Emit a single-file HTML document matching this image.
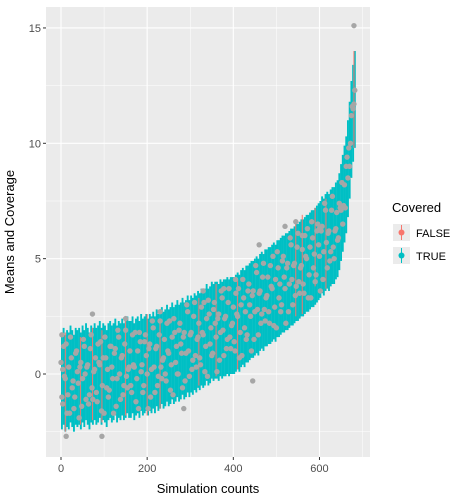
<!DOCTYPE html>
<html><head><meta charset="utf-8"><style>
body{margin:0;background:#fff;}
svg{display:block;font-family:"Liberation Sans",sans-serif;}
</style></head><body>
<svg id="chart" width="474" height="502" viewBox="0 0 474 502">
<rect x="46" y="7" width="324" height="450" fill="#EBEBEB"/>
<g id="grid"></g>
<g id="bars"></g>
<g id="redbars"></g>
<g id="points"></g>
<g id="axes"></g>
<text x="14" y="232" transform="rotate(-90 14 232)" text-anchor="middle" font-size="13" fill="#000">Means and Coverage</text>
<text x="208" y="493" text-anchor="middle" font-size="13" fill="#000">Simulation counts</text>
<g>
<text x="392" y="212" font-size="13" fill="#000">Covered</text>
<g>
<rect x="393" y="224" width="17" height="17" fill="#EBEBEB"/>
<line x1="401.5" y1="225" x2="401.5" y2="240" stroke="#F8766D" stroke-width="1"/>
<circle cx="401.5" cy="232.5" r="3" fill="#F8766D"/>
<text x="416" y="237" font-size="11" fill="#000">FALSE</text>
</g>
<g>
<rect x="393" y="247" width="17" height="17" fill="#EBEBEB"/>
<line x1="401.5" y1="248" x2="401.5" y2="263" stroke="#00BFC4" stroke-width="1"/>
<circle cx="401.5" cy="255.5" r="3" fill="#00BFC4"/>
<text x="416" y="260" font-size="11" fill="#000">TRUE</text>
</g>
</g>
</svg>
<script>
const centers = [-0.3,-0.1,-0.4,-0.2,-0.3,0.0,-0.2,-0.4,-0.1,-0.2,
-0.1,-0.3,0.0,-0.2,0.1,-0.1,-0.3,0.0,-0.1,0.1,
-0.1,0.0,0.2,-0.1,0.1,0.0,-0.2,0.1,0.2,0.0,
0.1,0.3,0.0,0.2,0.1,0.3,0.1,0.2,0.4,0.2,
0.2,0.4,0.1,0.3,0.4,0.2,0.5,0.3,0.4,0.5,
0.3,0.5,0.4,0.6,0.4,0.7,0.5,0.6,0.8,0.6,
0.7,0.9,0.7,0.8,1.0,0.8,0.9,1.1,0.9,1.0,
1.2,1.0,1.1,1.3,1.1,1.3,1.2,1.4,1.3,1.5,
1.4,1.6,1.5,1.6,1.8,1.6,1.7,1.9,1.8,1.9,
1.9,1.8,2.0,1.9,2.0,2.0,2.1,2.0,2.1,2.1,
2.1,2.2,2.3,2.2,2.4,2.5,2.4,2.6,2.6,2.7,
2.8,2.8,2.9,3.0,2.9,3.1,3.2,3.1,3.3,3.3,
3.4,3.4,3.5,3.6,3.5,3.7,3.7,3.8,3.9,3.9,
4.0,4.0,4.1,4.2,4.2,4.3,4.4,4.4,4.5,4.6,
4.6,4.7,4.8,4.8,4.9,5.0,5.0,5.1,5.2,5.3,
5.4,5.6,5.5,5.7,5.8,5.7,5.9,6.0,6.0,6.2,
6.3,6.6,7.0,7.4,7.8,8.2,8.9,9.7,10.6,11.3,
11.9];
const halfWidth = 2.1;
const xStep = 4;
const pointY = [0.5,-1.3,-0.1,1.3,-0.9,-1.7,0.7,-0.3,-1.0,1.0,
-0.4,0.3,-1.4,1.5,0.0,0.3,-1.3,1.1,-0.6,0.1,
0.7,-1.2,0.5,1.4,-0.5,-1.7,0.7,0.2,-0.7,1.2,
-0.2,0.9,-1.4,1.9,0.0,0.7,-0.9,1.3,-0.1,0.2,
1.0,-0.8,0.4,1.8,-0.2,-1.5,1.4,0.4,-0.5,1.7,
0.0,1.1,-1.0,2.3,0.3,1.1,-0.5,1.7,0.3,0.6,
1.5,-0.3,1.0,2.3,0.4,-0.9,1.8,1.2,0.0,2.2,
0.9,1.6,-0.3,3.0,1.0,1.7,0.2,2.5,0.8,1.5,
2.2,0.4,1.8,3.1,1.2,-0.1,2.6,2.0,0.9,3.1,
1.6,2.4,0.6,3.6,1.9,2.4,1.1,3.1,1.6,2.1,
2.9,1.0,2.6,3.7,1.8,0.8,3.3,2.7,1.7,3.9,
2.5,3.4,1.5,4.7,2.8,3.5,2.2,4.2,2.8,3.3,
4.2,2.2,3.8,5.1,2.9,2.0,4.6,3.9,3.0,5.1,
3.7,4.6,2.7,5.9,4.1,4.7,3.4,5.5,4.0,4.6,
5.4,3.5,5.1,6.3,4.3,3.3,5.9,5.2,4.3,6.5,
5.1,6.2,4.1,7.4,5.7,6.1,4.9,7.1,5.5,6.2,
7.0,5.9,7.2,8.3,7.3,7.2,9.4,9.8,10.0,11.6,
11.7];
const pointY2 = [-1.0,1.2,-0.2,-1.7,0.3,1.6,-0.6,-1.5,0.9,0.1,
-1.9,0.5,-0.2,1.2,-1.1,0.4,-0.9,1.7,-1.1,0.2,
-0.8,1.3,0.4,-1.6,0.7,1.6,-0.6,-1.0,1.2,0.3,
-1.7,1.1,-0.2,1.6,-1.1,0.8,-0.5,1.9,-0.6,0.3,
-0.5,1.7,0.3,-1.2,1.0,1.8,0.1,-0.8,1.4,0.8,
-1.5,1.3,0.2,2.0,-0.8,1.2,-0.1,2.3,-0.2,0.7,
0.0,2.2,0.9,-0.7,1.6,2.4,0.5,0.0,1.9,1.3,
-0.6,1.8,0.9,2.7,-0.1,1.8,0.6,3.1,0.3,1.6,
0.7,2.9,1.7,0.1,2.4,3.2,1.3,0.8,2.8,2.2,
0.1,2.6,1.8,3.3,0.8,2.5,1.5,3.7,1.1,2.2,
1.4,3.5,2.5,0.7,3.0,4.1,2.0,1.5,3.6,3.0,
1.0,3.6,2.7,4.4,1.7,3.6,2.6,4.8,2.3,3.4,
2.7,4.7,3.7,2.1,4.1,5.3,3.3,2.7,4.9,4.2,
2.2,4.8,3.9,5.6,3.0,4.8,3.8,6.1,3.5,4.7,
3.9,6.0,5.0,3.3,5.5,6.6,4.6,4.0,6.2,5.6,
3.6,6.4,5.3,7.1,4.6,6.2,5.3,7.7,5.0,6.3,
5.8,7.4,7.1,6.5,8.2,9.0,8.5,9.0,11.2,11.5,
12.3];
const extraX = [680,2,4,12,73,95,150,230,285,445,460,520,545,405,378,330,560,600];
const extraY = [15.1,1.7,0.2,-2.7,2.6,-2.7,2.4,2.7,-1.5,-0.3,5.6,6.4,6.6,4.1,3.7,3.6,6.0,6.3];
const falseX = [10,45,73,95,150,200,230,320,360,410,545,560,590,615,680];
const falseLo = [-2.5,-2.2,-2.0,-2.1,-1.8,-1.8,-1.5,-0.5,-0.1,0.2,2.5,2.6,3.8,3.7,9.8];
const falseHi = [1.8,1.6,2.0,1.9,2.4,2.6,2.3,3.3,3.9,4.1,6.6,6.9,7.2,7.6,14.0];
const xTicks = [0,200,400,600];
const xMinor = [100,300,500,700];
const yTicks = [0,5,10,15];
const yMinor = [-2.5,2.5,7.5,12.5];
const NS='http://www.w3.org/2000/svg';
const sx = v => 61 + v*0.4308;
const sy = v => 374 - v*23.07;
function mk(parent, tag, attrs){const e=document.createElementNS(NS,tag);for(const k in attrs)e.setAttribute(k,attrs[k]);document.getElementById(parent).appendChild(e);return e;}
yMinor.forEach(v=>{const l=mk('grid','line',{x1:46,x2:370,y1:sy(v),y2:sy(v),stroke:'#fff','stroke-width':0.5});

});
xMinor.forEach(v=>{const l=mk('grid','line',{y1:7,y2:457,x1:sx(v),x2:sx(v),stroke:'#fff','stroke-width':0.5});

});
yTicks.forEach(v=>{const l=mk('grid','line',{x1:46,x2:370,y1:sy(v),y2:sy(v),stroke:'#fff','stroke-width':1.1});


const t=mk('axes','line',{x1:43,x2:46,y1:sy(v),y2:sy(v),stroke:'#333','stroke-width':1});


const tx=mk('axes','text',{x:41,y:sy(v)+4,'text-anchor':'end','font-size':11,fill:'#4D4D4D'});tx.textContent=v;

});
xTicks.forEach(v=>{const l=mk('grid','line',{y1:7,y2:457,x1:sx(v),x2:sx(v),stroke:'#fff','stroke-width':1.1});


const t=mk('axes','line',{y1:457,y2:460,x1:sx(v),x2:sx(v),stroke:'#333','stroke-width':1});


const tx=mk('axes','text',{x:sx(v),y:472,'text-anchor':'middle','font-size':11,fill:'#4D4D4D'});tx.textContent=v;

});
centers.forEach((c,i)=>{const x=sx(i*xStep)+0.9;const b=mk('bars','line',{x1:x,x2:x,y1:sy(c+halfWidth),y2:sy(c-halfWidth),stroke:'#00BFC4','stroke-width':1.9});

});
falseX.forEach((v,i)=>{const b=mk('redbars','line',{x1:sx(v),x2:sx(v),y1:sy(falseHi[i]),y2:sy(falseLo[i]),stroke:'#F8766D','stroke-width':1});

});
pointY.forEach((v,i)=>{const p=mk('points','circle',{cx:sx(i*xStep),cy:sy(v),r:2.7,fill:'#A6A6A6'});

});
pointY2.forEach((v,i)=>{const p=mk('points','circle',{cx:sx(i*xStep+2),cy:sy(v),r:2.7,fill:'#A6A6A6'});

});
extraX.forEach((v,i)=>{const p=mk('points','circle',{cx:sx(v),cy:sy(extraY[i]),r:2.7,fill:'#A6A6A6'});

});
</script>
</body></html>
